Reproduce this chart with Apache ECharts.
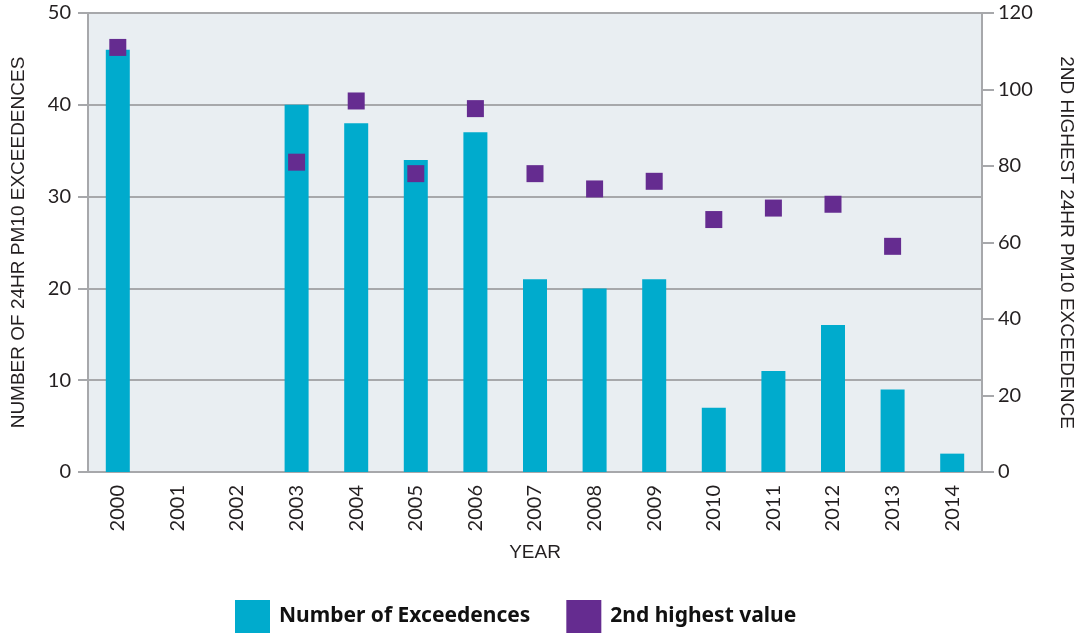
<!DOCTYPE html>
<html>
<head>
<meta charset="utf-8">
<script src="https://cdn.jsdelivr.net/npm/echarts@6/dist/echarts.min.js"></script>
<style>
html, body { margin: 0; padding: 0; background: #fff; }
#chart { width: 1079px; height: 633px; }
</style>
</head>
<body>
<div id="chart"></div>
<script>
// 年份
const years = ['2000', '2001', '2002', '2003', '2004', '2005', '2006', '2007', '2008', '2009', '2010', '2011', '2012', '2013', '2014']
// 超标次数
const exceedences = [46, null, null, 40, 38, 34, 37, 21, 20, 21, 7, 11, 16, 9, 2]
// 第二高值
const secondHighest = [111, null, null, 81, 97, 78, 95, 78, 74, 76, 66, 69, 70, 59, null]

const tickFont = 'Lato, "DejaVu Sans", sans-serif'
const nameFont = '"Liberation Sans", Arial, sans-serif'
const chart = echarts.init(document.getElementById('chart'))

chart.setOption({
  animation: false,
  grid: {
    left: 88,
    right: 97,
    top: 13,
    bottom: 161,
    outerBoundsMode: 'none',
    show: true,
    backgroundColor: '#e9eef2',
    borderWidth: 0
  },
  legend: {
    top: 600,
    left: 235,
    padding: 0,
    itemWidth: 35,
    itemHeight: 33,
    itemGap: 36,
    icon: 'rect',
    textStyle: { fontFamily: '"Noto Sans", sans-serif', fontWeight: 'bold', fontSize: 21, color: '#111', padding: [10, 0, 0, 4] },
    data: ['Number of Exceedences', '2nd highest value']
  },
  xAxis: {
    type: 'category',
    data: years,
    name: 'YEAR',
    nameLocation: 'middle',
    nameGap: 71,
    nameTextStyle: { fontFamily: nameFont, fontSize: 19, color: '#231f20' },
    axisLine: { lineStyle: { color: '#a7a8ab', width: 2 } },
    axisTick: { inside: true, length: 11, lineStyle: { color: '#a7a8ab', width: 2 } },
    axisLabel: { rotate: 90, fontFamily: tickFont, fontSize: 20, color: '#231f20', margin: 13 }
  },
  yAxis: [
    {
      type: 'value',
      min: 0,
      max: 50,
      interval: 10,
      name: 'NUMBER OF 24HR PM10 EXCEEDENCES',
      nameLocation: 'middle',
      nameGap: 60,
      nameTextStyle: { fontFamily: nameFont, fontSize: 19, color: '#231f20' },
      axisLine: { show: true, lineStyle: { color: '#a7a8ab', width: 2 } },
      axisTick: { show: true, length: 10, lineStyle: { color: '#a7a8ab', width: 2 } },
      axisLabel: { fontFamily: tickFont, fontSize: 20, color: '#231f20', margin: 17 },
      splitLine: { lineStyle: { color: '#a7a8ab', width: 2 } }
    },
    {
      type: 'value',
      min: 0,
      max: 120,
      interval: 20,
      name: '2ND HIGHEST 24HR PM10 EXCEEDENCE',
      nameLocation: 'middle',
      nameRotate: -90,
      nameGap: 75,
      nameTextStyle: { fontFamily: nameFont, fontSize: 19, color: '#231f20' },
      axisLine: { show: true, lineStyle: { color: '#a7a8ab', width: 2 } },
      axisTick: { show: true, length: 12, lineStyle: { color: '#a7a8ab', width: 2 } },
      axisLabel: { fontFamily: tickFont, fontSize: 20, color: '#231f20', margin: 16 },
      splitLine: { show: false }
    }
  ],
  series: [
    {
      name: 'Number of Exceedences',
      type: 'bar',
      data: exceedences,
      barWidth: 24,
      itemStyle: { color: '#00abcd' }
    },
    {
      name: '2nd highest value',
      type: 'scatter',
      yAxisIndex: 1,
      data: secondHighest,
      symbol: 'rect',
      symbolSize: 17,
      itemStyle: { color: '#652c90', opacity: 1 }
    }
  ]
})
</script>
</body>
</html>
